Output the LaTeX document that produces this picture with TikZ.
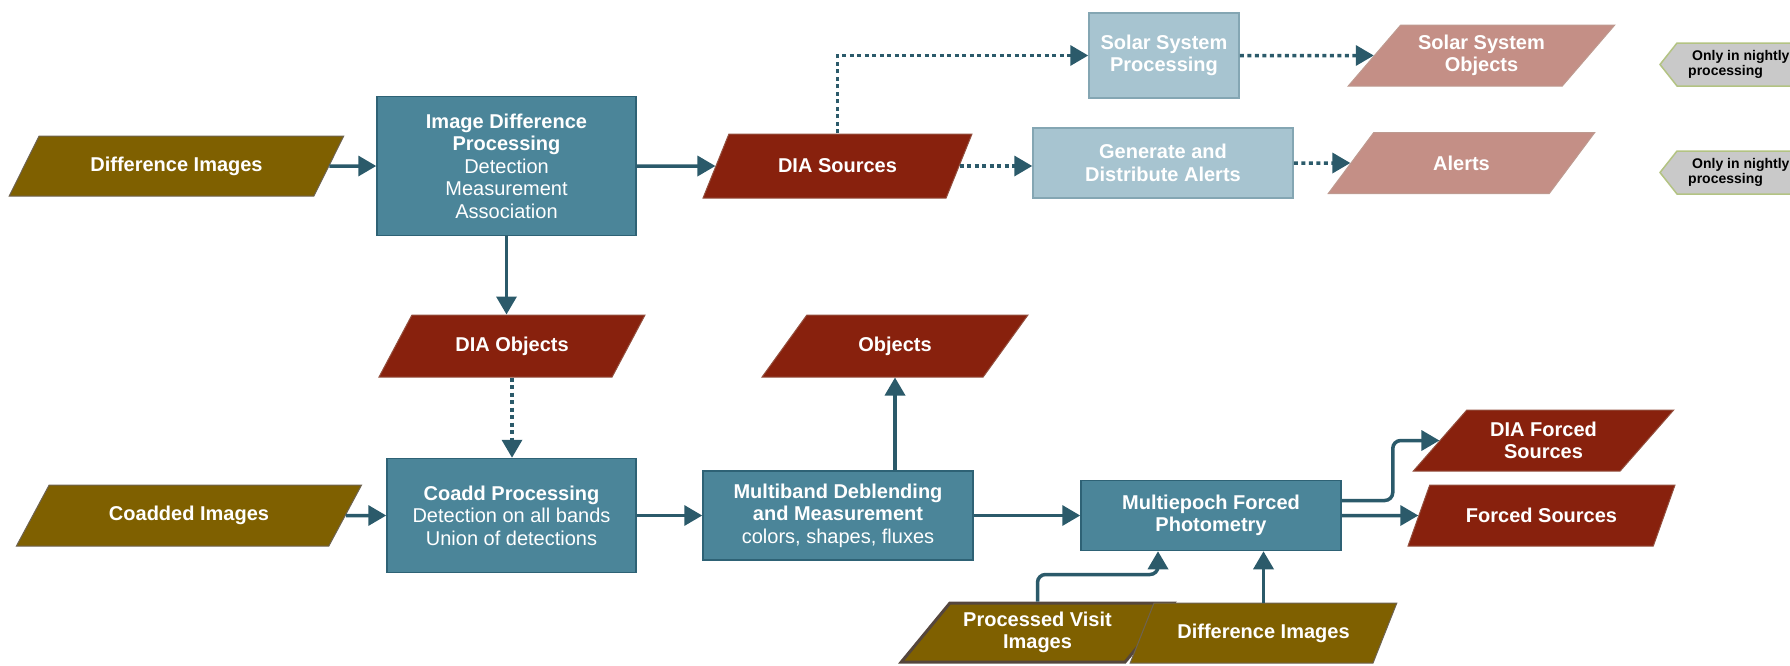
\documentclass[tikz,border=0pt]{standalone}
\usepackage{fontspec}
\setmainfont{Liberation Sans}
\usetikzlibrary{shapes.geometric,arrows.meta,calc}
\definecolor{colOlive}{HTML}{7F6000}
\definecolor{colOliveB}{HTML}{6E6350}
\definecolor{colPviB}{HTML}{55463C}
\definecolor{colRed}{HTML}{88210D}
\definecolor{colRedB}{HTML}{94503F}
\definecolor{colTeal}{HTML}{4B8599}
\definecolor{colTealB}{HTML}{2E6275}
\definecolor{colLight}{HTML}{A7C4D0}
\definecolor{colLightB}{HTML}{84A6B3}
\definecolor{colPink}{HTML}{C48F86}
\definecolor{colPinkB}{HTML}{BE9A90}
\definecolor{colArrow}{HTML}{2B5A6A}
\definecolor{colCallout}{HTML}{C9C9C9}
\definecolor{colCalloutB}{HTML}{B3C383}
\begin{document}
\begin{tikzpicture}[x=1pt,y=-1pt,
  para/.style={shape=trapezium, trapezium left angle=45, trapezium right angle=135,
    trapezium stretches=true, inner sep=0pt, align=center, text=white,
    font=\fontsize{20}{22.5}\selectfont\bfseries},
  olivep/.style={para, fill=colOlive, draw=colOliveB, line width=1pt},
  redp/.style={para, fill=colRed, draw=colRedB, line width=1pt},
  pinkp/.style={para, fill=colPink, draw=colPinkB, line width=1pt},
  procbox/.style={rectangle, fill=colTeal, draw=colTealB, line width=1.5pt, text=white,
    align=center, inner sep=0pt, font=\fontsize{20}{22.5}\selectfont},
  lightbox/.style={rectangle, fill=colLight, draw=colLightB, line width=1.5pt, text=white,
    align=center, inner sep=0pt, font=\fontsize{20}{22.5}\selectfont\bfseries},
  arr/.style={draw=colArrow, line width=3.5pt, -{Triangle[length=18pt,width=20pt]}},
  dotarr/.style={arr, line cap=butt, dash pattern=on 4pt off 3.5pt},
  callouttext/.style={align=left, inner sep=0pt, anchor=west, text=black,
    font=\fontsize{14}{15.5}\selectfont\bfseries}
]
\useasboundingbox (0,0) rectangle (1790,665);

% ---- top row ----
\node[olivep, minimum width=335pt, minimum height=60pt] (dimg) at (176.5,166) {Difference Images};
\node[procbox, minimum width=259pt, minimum height=139pt] (idp) at (506.5,166)
  {\textbf{Image Difference}\\\textbf{Processing}\\Detection\\Measurement\\Association};
\node[redp, minimum width=269pt, minimum height=64pt] (dias) at (837.5,166) {DIA Sources};
\node[lightbox, minimum width=150pt, minimum height=85pt] (ssp) at (1164,55.5) {Solar System\\Processing};
\node[lightbox, minimum width=260pt, minimum height=70pt] (gda) at (1163,163) {Generate and\\Distribute Alerts};
\node[pinkp, minimum width=267pt, minimum height=61pt] (sso) at (1481.5,55.5) {Solar System\\Objects};
\node[pinkp, minimum width=267pt, minimum height=61pt] (alerts) at (1461.5,163) {Alerts};

% ---- callouts ----
\fill[colCallout, draw=colCalloutB, line width=1.5pt]
  (1660,64.5) -- (1677,43) -- (1800,43) -- (1800,86) -- (1677,86) -- cycle;
\fill[colCallout, draw=colCalloutB, line width=1.5pt]
  (1660,172.5) -- (1677,151) -- (1800,151) -- (1800,194) -- (1677,194) -- cycle;
\node[callouttext] (c1) at (1688,64.5) {\hspace*{4pt}Only in nightly\\processing};
\node[callouttext] (c2) at (1688,172.5) {\hspace*{4pt}Only in nightly\\processing};

% ---- middle / bottom ----
\node[redp, minimum width=266pt, minimum height=62pt] (diao) at (512,346) {DIA Objects};
\node[redp, minimum width=266pt, minimum height=62pt] (objects) at (895,346) {Objects};
\node[olivep, minimum width=346pt, minimum height=61pt] (coaddimg) at (189,515.5) {Coadded Images};
\node[procbox, minimum width=249pt, minimum height=114pt] (coadd) at (511.5,515.5)
  {\textbf{Coadd Processing}\\Detection on all bands\\Union of detections};
\node[procbox, minimum width=270pt, minimum height=89pt] (mb) at (838,515.5)
  {\textbf{Multiband Deblending}\\\textbf{and Measurement}\\colors, shapes, fluxes};
\node[procbox, minimum width=260pt, minimum height=70pt] (mep) at (1211,515.5)
  {\textbf{Multiepoch Forced}\\\textbf{Photometry}};
\node[redp, minimum width=261pt, minimum height=61pt] (diafs) at (1543.5,440.5) {DIA Forced\\Sources};
\node[redp, minimum width=267pt, minimum height=61pt] (fs) at (1541.5,515.5) {Forced Sources};
\node[olivep, draw=colPviB, line width=3pt, minimum width=273pt, minimum height=59pt] (pvi) at (1037.5,632.5)
  {Processed Visit\\Images};
\node[olivep, minimum width=267pt, minimum height=60pt] (dimg2) at (1263.5,633) {Difference Images};

% ---- connectors ----
\draw[arr] (dimg.east) -- (idp.west);
\draw[arr] (idp.east) -- (dias.west);
\draw[dotarr] (dias.north) |- (ssp.west);
\draw[dotarr] (dias.east) -- (dias.east -| gda.west);
\draw[dotarr] (ssp.east) -- (sso.west);
\draw[dotarr] (gda.east) -- (alerts.west);
\draw[arr] (idp.south) -- (idp.south |- diao.north);
\draw[dotarr] (diao.south) -- (diao.south |- coadd.north);
\draw[arr] (coaddimg.east) -- (coadd.west);
\draw[arr] (coadd.east) -- (mb.west);
\draw[arr] (objects.south |- mb.north) -- (objects.south);
\draw[arr] (mb.east) -- (mep.west);
\draw[arr] (mep.east) -- (fs.west);
\draw[arr, rounded corners=8pt] ([yshift=15pt]mep.east) -- ++(51,0) |- (diafs.west);
\draw[arr, rounded corners=8pt] (pvi.north) -- ++(0,-27) -| ([xshift=-53pt]mep.south);
\draw[arr] (dimg2.north) -- (dimg2.north |- mep.south);
\end{tikzpicture}
\end{document}
